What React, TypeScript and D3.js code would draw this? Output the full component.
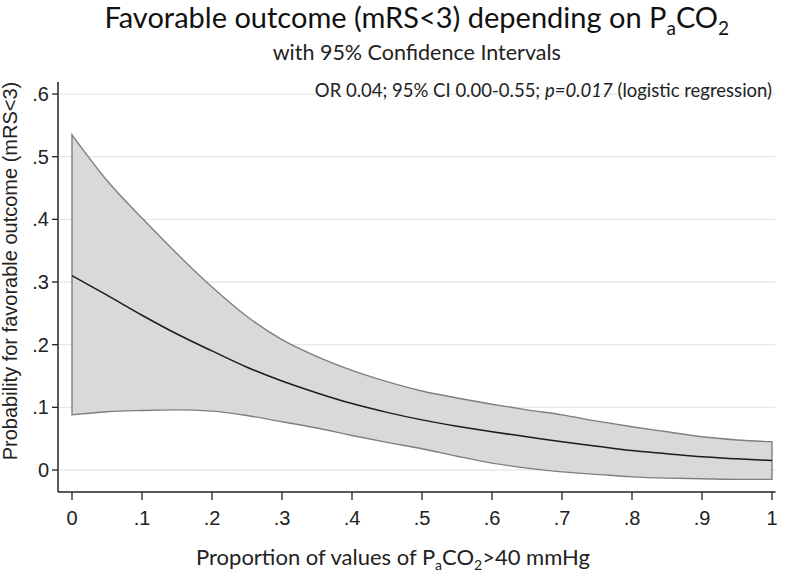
import * as d3 from 'd3';
import React from 'react';

// proportion of PaCO2 values > 40 mmHg
const xs = [0, 0.05, 0.1, 0.15, 0.2, 0.25, 0.3, 0.35, 0.4, 0.45, 0.5, 0.55, 0.6, 0.65, 0.7, 0.75, 0.8, 0.85, 0.9, 0.95, 1];
// predicted probability of mRS<3
const fit = [0.31, 0.279, 0.247, 0.217, 0.19, 0.164, 0.142, 0.123, 0.106, 0.092, 0.08, 0.07, 0.061, 0.053, 0.045, 0.038, 0.031, 0.026, 0.021, 0.018, 0.015];
const upper = [0.535, 0.462, 0.402, 0.345, 0.292, 0.245, 0.208, 0.181, 0.159, 0.141, 0.126, 0.115, 0.105, 0.096, 0.088, 0.078, 0.069, 0.061, 0.053, 0.048, 0.045];
const lower = [0.088, 0.093, 0.095, 0.096, 0.094, 0.087, 0.077, 0.067, 0.055, 0.044, 0.034, 0.022, 0.011, 0.003, -0.003, -0.007, -0.011, -0.013, -0.014, -0.015, -0.015];

const xTicks = [0, 0.1, 0.2, 0.3, 0.4, 0.5, 0.6, 0.7, 0.8, 0.9, 1];
const yTicks = [0, 0.1, 0.2, 0.3, 0.4, 0.5, 0.6];

const fmt = (d: number) => (d === 0 || d === 1 ? String(d) : d3.format('.1f')(d).replace(/^0/, ''));

const App = () => {
  const width = 787;
  const height = 572;
  const plot = { left: 58, right: 775.5, top: 82, bottom: 492 };

  const x = d3.scaleLinear().domain([-0.02, 1.005]).range([plot.left, plot.right]);
  const y = d3.scaleLinear().domain([-0.0351, 0.6192]).range([plot.bottom, plot.top]);

  const data = xs.map((v, i) => ({ x: v, fit: fit[i], lo: lower[i], hi: upper[i] }));

  const band = d3.area<any>()
    .x((d) => x(d.x))
    .y0((d) => y(d.lo))
    .y1((d) => y(d.hi))
    .curve(d3.curveMonotoneX);
  const fitLine = d3.line<any>()
    .x((d) => x(d.x))
    .y((d) => y(d.fit))
    .curve(d3.curveMonotoneX);

  const calibri = 'Lato, "Open Sans", sans-serif';
  const arial = '"Liberation Sans", Arial, sans-serif';
  const titleX = (plot.left + plot.right) / 2;

  return (
    <svg width={width} height={height} style={{ position: 'absolute', left: 0, top: 0, background: '#fff' }}>
      <rect width={width} height={height} fill='#fff' />

      {/* gridlines */}
      {yTicks.map((t) => (
        <line key={'g' + t} x1={plot.left} x2={plot.right} y1={y(t)} y2={y(t)} stroke='#e8e8e8' strokeWidth={1.3} />
      ))}

      {/* confidence band and fitted line */}
      <path d={band(data) + 'Z'} fill='#d9d9d9' stroke='#7f7f7f' strokeWidth={1.4} strokeLinejoin='miter' />
      <path d={fitLine(data) || ''} fill='none' stroke='#1c1c1c' strokeWidth={1.5} />

      {/* y axis */}
      <line x1={plot.left} x2={plot.left} y1={plot.top} y2={plot.bottom} stroke='#222' strokeWidth={1.5} />
      {yTicks.map((t) => (
        <g key={'y' + t}>
          <line x1={plot.left - 6} x2={plot.left} y1={y(t)} y2={y(t)} stroke='#222' strokeWidth={1.3} />
          <text x={49} y={y(t)} dy='0.35em' textAnchor='end' fontFamily={arial} fontSize={20} fill='#222'>{fmt(t)}</text>
        </g>
      ))}

      {/* x axis */}
      <line x1={plot.left} x2={plot.right} y1={plot.bottom} y2={plot.bottom} stroke='#222' strokeWidth={1.5} />
      {xTicks.map((t) => (
        <g key={'x' + t}>
          <line x1={x(t)} x2={x(t)} y1={plot.bottom} y2={plot.bottom + 8} stroke='#222' strokeWidth={1.3} />
          <text x={x(t)} y={525} textAnchor='middle' fontFamily={arial} fontSize={20} fill='#222'>{fmt(t)}</text>
        </g>
      ))}

      {/* axis titles */}
      <text transform='translate(17,271) rotate(-90)' textAnchor='middle' fontFamily={arial} fontSize={20} fill='#222'>
        Probability for favorable outcome (mRS&lt;3)
      </text>
      <text x={393} y={565} textAnchor='middle' fontFamily={calibri} fontSize={22} fill='#222'>
        Proportion of values of P<tspan fontSize={14} dy={5}>a</tspan><tspan dy={-5}>CO</tspan><tspan fontSize={14} dy={5}>2</tspan><tspan dy={-5}>&gt;40 mmHg</tspan>
      </text>

      {/* titles */}
      <text x={titleX} y={28} textAnchor='middle' fontFamily={calibri} fontSize={29} fill='#111'>
        Favorable outcome (mRS&lt;3) depending on P<tspan fontSize={19} dy={7}>a</tspan><tspan dy={-7}>CO</tspan><tspan fontSize={19} dy={7}>2</tspan>
      </text>
      <text x={titleX} y={60} textAnchor='middle' fontFamily={calibri} fontSize={21.5} fill='#222'>
        with 95% Confidence Intervals
      </text>

      {/* annotation */}
      <text x={772} y={97} textAnchor='end' fontFamily={calibri} fontSize={18.5} fill='#222'>
        OR 0.04; 95% CI 0.00-0.55; <tspan fontStyle='italic'>p=0.017</tspan> (logistic regression)
      </text>
    </svg>
  );
};

export default App;
